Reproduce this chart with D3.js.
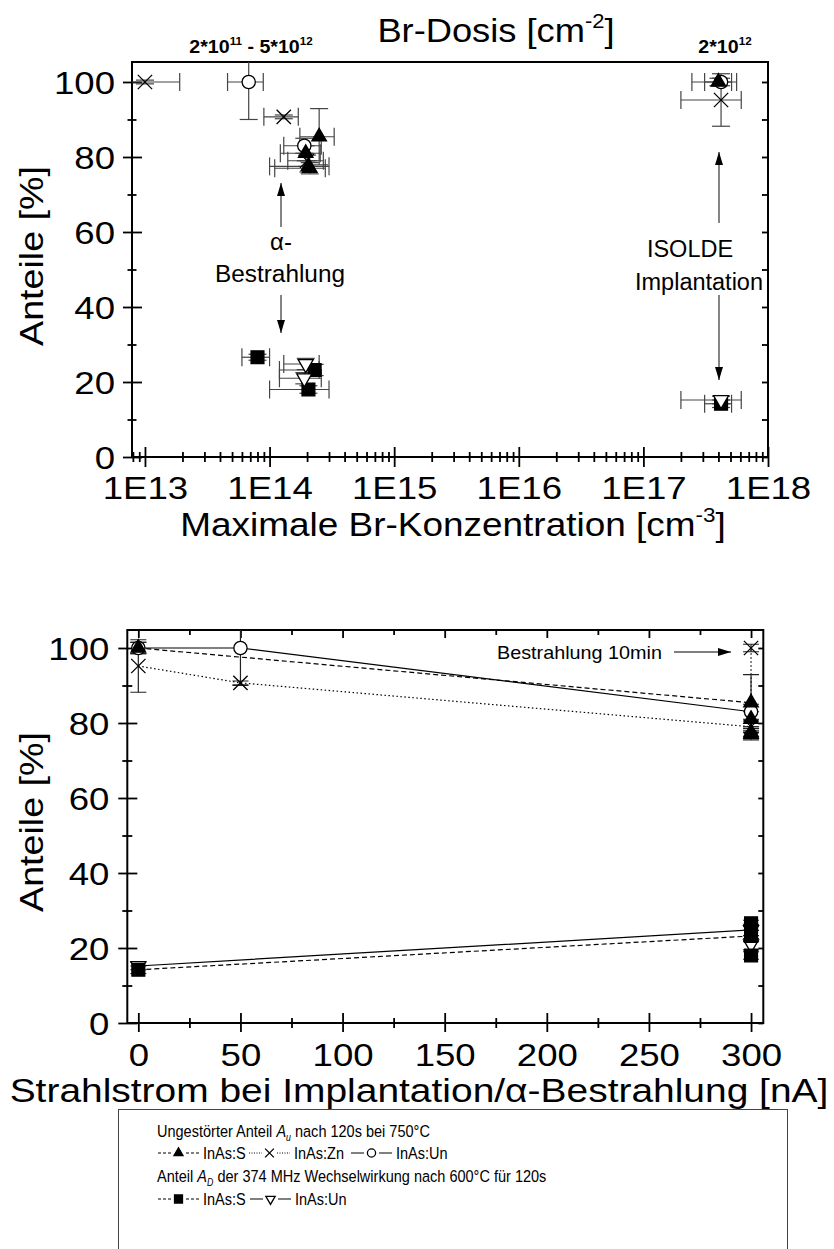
<!DOCTYPE html>
<html>
<head>
<meta charset="utf-8">
<script src="https://cdn.jsdelivr.net/npm/d3@7"></script>
<style>
  body { margin: 0; background: #fff; }
  svg { display: block; }
  text { font-family: "Liberation Sans", Arial, Helvetica, sans-serif; fill: #000; }
</style>
</head>
<body>
<svg id="chart" width="834" height="1249"></svg>
<script>
// ---- top panel: Br concentration [cm^-3] vs. fraction [%] ----
var topXTicks = [1e13, 1e14, 1e15, 1e16, 1e17, 1e18];
var topXTickLabels = ["1E13", "1E14", "1E15", "1E16", "1E17", "1E18"];
var yTicks = [0, 20, 40, 60, 80, 100];
var yMinorTicks = [10, 30, 50, 70, 90];

// A_u, InAs:S (filled triangle)
var topS_x   = [4.0e17, 2.5e14, 1.95e14, 2.05e14, 2.1e14];
var topS_y   = [100, 85.4, 81, 77.5, 77];
var topS_xlo = [3.1e17, 1.75e14, 1.22e14, 1.0e14, 1.1e14];
var topS_xhi = [5.1e17, 3.3e14, 2.55e14, 3.0e14, 2.8e14];
var topS_err = [1, 7.5, 2, 1.5, 1.5];
// A_u, InAs:Zn (cross)
var topZn_x   = [4.2e17, 1.0e13, 1.3e14, 2.0e14];
var topZn_y   = [95.2, 100, 90.7, 79];
var topZn_xlo = [2.0e17, 5.2e12, 9.0e13, 1.4e14];
var topZn_xhi = [6.1e17, 1.9e13, 1.7e14, 2.7e14];
var topZn_err = [7, 0.5, 0.5, 1.5];
// A_u, InAs:Un (open circle)
var topUn_x   = [4.2e17, 6.8e13, 1.9e14];
var topUn_y   = [100, 100, 83];
var topUn_xlo = [2.45e17, 4.6e13, 1.3e14];
var topUn_xhi = [5.6e17, 8.9e13, 2.6e14];
var topUn_err = [1, 10, 2];
// A_D, InAs:S (filled square)
var topDS_x   = [4.2e17, 8.0e13, 2.3e14, 2.05e14];
var topDS_y   = [14.2, 26.6, 23.2, 18];
var topDS_xlo = [3.1e17, 6.0e13, 1.2e14, 1.0e14];
var topDS_xhi = [5.1e17, 1.0e14, 2.5e14, 3.0e14];
var topDS_err = [1, 0.8, 1.5, 1];
// A_D, InAs:Un (open triangle down)
var topDUn_x   = [4.2e17, 1.95e14, 1.9e14];
var topDUn_y   = [15.2, 24.8, 21];
var topDUn_xlo = [2.0e17, 1.3e14, 1.2e14];
var topDUn_xhi = [6.1e17, 2.5e14, 2.6e14];
var topDUn_err = [1, 1.5, 1.5];

// ---- bottom panel: beam current [nA] vs. fraction [%] ----
var botXTicks = [0, 50, 100, 150, 200, 250, 300];
var botXMinor = [25, 75, 125, 175, 225, 275];
var botS_x = [0, 300, 300, 300, 300],  botS_y = [100, 85.4, 81, 77.5, 77], botS_err = [1.5, 7.5, 2, 1.5, 1.5];
var botZn_x = [0, 50, 300, 300],       botZn_y = [95.2, 90.7, 79, 100],     botZn_err = [7, 0.5, 1.5, 1];
var botUn_x = [0, 50, 300],            botUn_y = [100, 100, 83],            botUn_err = [1.5, 10, 2];
var botDS_x = [0, 300, 300, 300],      botDS_y = [14.2, 23.2, 26.6, 18],    botDS_err = [1, 1.5, 0.8, 1];
var botDUn_x = [0, 300, 300],          botDUn_y = [15.2, 24.8, 21],         botDUn_err = [1, 1.5, 1.5];

var svg = d3.select("#chart");
var defs = svg.append("defs");

defs.append("marker").attr("id", "head")
    .attr("markerUnits", "userSpaceOnUse")
    .attr("markerWidth", 14).attr("markerHeight", 8)
    .attr("refX", 13).attr("refY", 4).attr("orient", "auto")
  .append("path").attr("d", "M0,0 L13,4 L0,8 Z").attr("fill", "#000");

// scales
var xTop = d3.scaleLog().domain([7.87e12, 1e18]).range([132, 768]);
var yTop = d3.scaleLinear().domain([0, 105.33]).range([457, 62]);
var xBot = d3.scaleLinear().domain([-5.4, 306]).range([127.3, 763.3]);
var yBot = d3.scaleLinear().domain([0, 104.8]).range([1023, 630]);

defs.append("clipPath").attr("id", "clipTop").append("rect")
    .attr("x", 132).attr("y", 62).attr("width", 636).attr("height", 395);
defs.append("clipPath").attr("id", "clipBot").append("rect")
    .attr("x", 127.3).attr("y", 630).attr("width", 636).attr("height", 393);

var SYM = {
  triUp:   { type: d3.symbolTriangle, size: 92,  fill: "#000", rot: 0 },
  triDown: { type: d3.symbolTriangle, size: 98,  fill: "#fff", rot: 180 },
  square:  { type: d3.symbolSquare,   size: 165, fill: "#000", rot: 0 },
  circle:  { type: d3.symbolCircle,   size: 138, fill: "#fff", rot: 0 },
  cross:   { type: d3.symbolX,        size: 135, fill: "none", rot: 0 }
};

var TICK_SX = 1.18;   // the reference glyphs run wider than Arial
var TITLE_SX = 1.12;

function drawMarkers(g, pts, sym, scale) {
  var s = scale || 1;
  g.selectAll(null).data(pts).join("path")
    .attr("d", d3.symbol(sym.type, sym.size * s * s))
    .attr("transform", function (d) { return "translate(" + d.px + "," + d.py + ") rotate(" + sym.rot + ")"; })
    .attr("fill", sym.fill)
    .attr("stroke", "#000")
    .attr("stroke-width", 1.3);
}

function errBars(g, pts, cap, color) {
  pts.forEach(function (d) {
    var e = g.append("g").attr("stroke", color).attr("stroke-width", 1.2).attr("fill", "none");
    if (d.x0 != null) {
      e.append("line").attr("x1", d.x0).attr("x2", d.x1).attr("y1", d.py).attr("y2", d.py);
      e.append("line").attr("x1", d.x0).attr("x2", d.x0).attr("y1", d.py - cap).attr("y2", d.py + cap);
      e.append("line").attr("x1", d.x1).attr("x2", d.x1).attr("y1", d.py - cap).attr("y2", d.py + cap);
    }
    if (d.y0 != null) {
      e.append("line").attr("x1", d.px).attr("x2", d.px).attr("y1", d.y0).attr("y2", d.y1);
      e.append("line").attr("x1", d.px - cap).attr("x2", d.px + cap).attr("y1", d.y0).attr("y2", d.y0);
      e.append("line").attr("x1", d.px - cap).attr("x2", d.px + cap).attr("y1", d.y1).attr("y2", d.y1);
    }
  });
}

function topPoints(xs, ys, xlo, xhi, err) {
  return xs.map(function (v, i) {
    return { px: xTop(v), py: yTop(ys[i]), x0: xTop(xlo[i]), x1: xTop(xhi[i]),
             y0: yTop(ys[i] - err[i]), y1: yTop(ys[i] + err[i]) };
  });
}
function botPoints(xs, ys, err) {
  return xs.map(function (v, i) {
    return { px: xBot(v), py: yBot(ys[i]), x0: null, y0: yBot(ys[i] - err[i]), y1: yBot(ys[i] + err[i]) };
  });
}

// text placed with a horizontal stretch
function label(x, y, size, sx, anchor, rot) {
  return svg.append("text")
    .attr("transform", "translate(" + x + "," + y + ")" + (rot ? " rotate(" + rot + ")" : "") +
                       " scale(" + (sx || 1) + ",1)")
    .attr("font-size", size)
    .attr("text-anchor", anchor || "middle");
}

function arrow(x1, y1, x2, y2, color) {
  svg.append("line").attr("x1", x1).attr("y1", y1).attr("x2", x2).attr("y2", y2)
     .attr("stroke", color || "#000").attr("stroke-width", 1.2).attr("marker-end", "url(#head)");
}

function styleAxis(g, size) {
  g.select(".domain").remove();
  g.attr("font-family", null).attr("font-size", size);
  g.selectAll(".tick line").attr("stroke", "#000").attr("stroke-width", 1.8);
}

// ================= TOP PANEL =================
var topG = svg.append("g");

// left axis
var gyl = topG.append("g").attr("transform", "translate(132,0)")
  .call(d3.axisLeft(yTop).tickValues(yTicks).tickSize(9));
styleAxis(gyl, 31);
gyl.selectAll(".tick line").attr("x1", 10);
gyl.selectAll(".tick text").attr("x", -17 / TICK_SX).attr("dy", "0.36em")
   .attr("transform", "scale(" + TICK_SX + ",1)");
var gylm = topG.append("g").attr("transform", "translate(132,0)")
  .call(d3.axisLeft(yTop).tickValues(yMinorTicks).tickSize(4.5).tickFormat(""));
styleAxis(gylm, 10);
gylm.selectAll(".tick line").attr("x1", 4.5);
// right axis, inward ticks
var gyr = topG.append("g").attr("transform", "translate(768,0)")
  .call(d3.axisLeft(yTop).tickValues(yTicks.concat(yMinorTicks)).tickSize(6).tickFormat(""));
styleAxis(gyr, 10);

// bottom log axis
var gxb = topG.append("g").attr("transform", "translate(0,457)")
  .call(d3.axisBottom(xTop).tickValues(topXTicks).tickSize(10)
        .tickFormat(function (d, i) { return topXTickLabels[i]; }));
styleAxis(gxb, 31);
gxb.selectAll(".tick line").attr("y1", -10);
gxb.selectAll(".tick text").attr("y", 42).attr("dy", 0)
   .attr("transform", "scale(" + TICK_SX + ",1)");
var topMinor = xTop.ticks().filter(function (d) { return topXTicks.indexOf(d) < 0; });
var gxbm = topG.append("g").attr("transform", "translate(0,457)")
  .call(d3.axisBottom(xTop).tickValues(topMinor).tickSize(5).tickFormat(""));
styleAxis(gxbm, 10);
gxbm.selectAll(".tick line").attr("y1", -5);

// frame
topG.append("path").attr("d", "M132,457 V62 H768 V457 H132")
   .attr("fill", "none").attr("stroke", "#000").attr("stroke-width", 2);

// data
var ptsTopUn = topPoints(topUn_x, topUn_y, topUn_xlo, topUn_xhi, topUn_err);
var ptsTopZn = topPoints(topZn_x, topZn_y, topZn_xlo, topZn_xhi, topZn_err);
var ptsTopS  = topPoints(topS_x, topS_y, topS_xlo, topS_xhi, topS_err);
var ptsTopDS = topPoints(topDS_x, topDS_y, topDS_xlo, topDS_xhi, topDS_err);
var ptsTopDUn = topPoints(topDUn_x, topDUn_y, topDUn_xlo, topDUn_xhi, topDUn_err);

var topErr = topG.append("g").attr("clip-path", "url(#clipTop)");
[ptsTopUn, ptsTopZn, ptsTopS, ptsTopDS, ptsTopDUn].forEach(function (p) { errBars(topErr, p, 9, "#444"); });
var topMk = topG.append("g");
drawMarkers(topMk, ptsTopUn, SYM.circle);
drawMarkers(topMk, ptsTopZn, SYM.cross);
drawMarkers(topMk, ptsTopS, SYM.triUp);
drawMarkers(topMk, ptsTopDS, SYM.square);
drawMarkers(topMk, ptsTopDUn, SYM.triDown);

// titles
var t1 = label(496, 42, 33, 1.1);
t1.append("tspan").text("Br-Dosis [cm");
t1.append("tspan").attr("dy", -14).attr("font-size", 20).text("-2");
t1.append("tspan").attr("dy", 14).text("]");

var b1 = label(251, 53, 18.5, 1.06).attr("font-weight", "bold");
b1.append("tspan").text("2*10");
b1.append("tspan").attr("dy", -8).attr("font-size", 11).text("11");
b1.append("tspan").attr("dy", 8).text(" - 5*10");
b1.append("tspan").attr("dy", -8).attr("font-size", 11).text("12");
var b2 = label(725, 53, 18.5, 1.06).attr("font-weight", "bold");
b2.append("tspan").text("2*10");
b2.append("tspan").attr("dy", -8).attr("font-size", 11).text("12");

label(43, 256, 33, 1.14, "middle", -90).text("Anteile [%]");

var t2 = label(453, 536, 33, TITLE_SX);
t2.append("tspan").text("Maximale Br-Konzentration [cm");
t2.append("tspan").attr("dy", -14).attr("font-size", 20).text("-3");
t2.append("tspan").attr("dy", 14).text("]");

// annotations
label(281, 250, 23, 1.04).text("\u03b1-");
label(280, 282, 23, 1.06).text("Bestrahlung");
arrow(281, 227, 281, 183, "#333");
arrow(281, 295, 281, 333, "#333");
label(690, 257, 23.5).text("ISOLDE");
label(699, 290, 23.5).text("Implantation");
arrow(719, 223, 719, 152, "#333");
arrow(719, 295, 719, 380, "#333");

// ================= BOTTOM PANEL =================
var botG = svg.append("g");

var byl = botG.append("g").attr("transform", "translate(127.3,0)")
  .call(d3.axisLeft(yBot).tickValues(yTicks).tickSize(9));
styleAxis(byl, 31);
byl.selectAll(".tick line").attr("x1", 10);
byl.selectAll(".tick text").attr("x", -18 / TICK_SX).attr("dy", "0.36em")
   .attr("transform", "scale(" + TICK_SX + ",1)");
var bylm = botG.append("g").attr("transform", "translate(127.3,0)")
  .call(d3.axisLeft(yBot).tickValues(yMinorTicks).tickSize(5).tickFormat(""));
styleAxis(bylm, 10);
bylm.selectAll(".tick line").attr("x1", 5);
var byr = botG.append("g").attr("transform", "translate(763.3,0)")
  .call(d3.axisLeft(yBot).tickValues(yTicks.concat(yMinorTicks)).tickSize(5).tickFormat(""));
styleAxis(byr, 10);

var bxb = botG.append("g").attr("transform", "translate(0,1023)")
  .call(d3.axisBottom(xBot).tickValues(botXTicks).tickSize(9));
styleAxis(bxb, 31);
bxb.selectAll(".tick line").attr("y1", -10);
bxb.selectAll(".tick text").attr("y", 43).attr("dy", 0)
   .attr("transform", "scale(" + TICK_SX + ",1)");
var bxbm = botG.append("g").attr("transform", "translate(0,1023)")
  .call(d3.axisBottom(xBot).tickValues(botXMinor).tickSize(5).tickFormat(""));
styleAxis(bxbm, 10);
bxbm.selectAll(".tick line").attr("y1", -5);
// top axis, inward ticks
var bxt = botG.append("g").attr("transform", "translate(0,630)")
  .call(d3.axisBottom(xBot).tickValues(botXTicks).tickSize(8).tickFormat(""));
styleAxis(bxt, 10);
var bxtm = botG.append("g").attr("transform", "translate(0,630)")
  .call(d3.axisBottom(xBot).tickValues(botXMinor).tickSize(5).tickFormat(""));
styleAxis(bxtm, 10);

botG.append("rect").attr("x", 127.3).attr("y", 630).attr("width", 636).attr("height", 393)
   .attr("fill", "none").attr("stroke", "#000").attr("stroke-width", 2);

var ptsBotUn = botPoints(botUn_x, botUn_y, botUn_err);
var ptsBotZn = botPoints(botZn_x, botZn_y, botZn_err);
var ptsBotS  = botPoints(botS_x, botS_y, botS_err);
var ptsBotDS = botPoints(botDS_x, botDS_y, botDS_err);
var ptsBotDUn = botPoints(botDUn_x, botDUn_y, botDUn_err);

var line = d3.line().x(function (d) { return d.px; }).y(function (d) { return d.py; });
var botLines = botG.append("g").attr("clip-path", "url(#clipBot)").attr("fill", "none").attr("stroke", "#000");
botLines.append("path").attr("d", line(ptsBotUn)).attr("stroke-width", 1.2);
botLines.append("path").attr("d", line(ptsBotS)).attr("stroke-width", 1.2).attr("stroke-dasharray", "5,3");
botLines.append("path").attr("d", line(ptsBotZn)).attr("stroke-width", 1.2).attr("stroke-dasharray", "1.5,2.5");
botLines.append("path").attr("d", line(ptsBotDUn)).attr("stroke-width", 1.2);
botLines.append("path").attr("d", line(ptsBotDS)).attr("stroke-width", 1.2).attr("stroke-dasharray", "5,3");

var botErr = botG.append("g").attr("clip-path", "url(#clipBot)");
[ptsBotUn, ptsBotZn, ptsBotS, ptsBotDUn, ptsBotDS].forEach(function (p) { errBars(botErr, p, 8, "#222"); });
var botMk = botG.append("g");
drawMarkers(botMk, ptsBotUn, SYM.circle);
drawMarkers(botMk, ptsBotZn, SYM.cross);
drawMarkers(botMk, ptsBotS, SYM.triUp);
drawMarkers(botMk, ptsBotDUn, SYM.triDown);
drawMarkers(botMk, ptsBotDS, SYM.square);

label(662, 659, 18, 1.1, "end").text("Bestrahlung 10min");
arrow(674, 652, 731, 652, "#000");

label(43, 822, 33, 1.14, "middle", -90).text("Anteile [%]");
label(419, 1102, 33, 1.18).text("Strahlstrom bei Implantation/\u03b1-Bestrahlung [nA]");

// ================= LEGEND =================
var leg = svg.append("g");
leg.append("rect").attr("x", 118.5).attr("y", 1109.5).attr("width", 669).attr("height", 200)
   .attr("fill", "none").attr("stroke", "#444").attr("stroke-width", 1);

function legText(x, y) {
  return leg.append("text").attr("transform", "translate(" + x + "," + y + ") scale(0.88,1)")
            .attr("font-size", 16.5);
}
function legSeg(x1, x2, y, dash) {
  leg.append("line").attr("x1", x1).attr("x2", x2).attr("y1", y).attr("y2", y)
     .attr("stroke", "#000").attr("stroke-width", 1).attr("stroke-dasharray", dash || null);
}
function legItem(x, y, sym, dash, name) {
  legSeg(x, x + 13, y, dash);
  drawMarkers(leg, [{ px: x + 20.5, py: y }], sym, 0.62);
  legSeg(x + 28, x + 41, y, dash);
  legText(x + 45, y + 6).text(name);
}

var l1 = legText(157, 1137);
l1.append("tspan").text("Ungestörter Anteil ");
l1.append("tspan").attr("font-style", "italic").text("A");
l1.append("tspan").attr("font-size", 10).attr("font-style", "italic").attr("dy", 4).text("u");
l1.append("tspan").attr("dy", -4).text(" nach 120s bei 750°C");
legItem(158, 1153, SYM.triUp, "3,2", "InAs:S");
legItem(249, 1153, SYM.cross, "1,1.5", "InAs:Zn");
legItem(351, 1153, SYM.circle, null, "InAs:Un");

var l3 = legText(157, 1182);
l3.append("tspan").text("Anteil ");
l3.append("tspan").attr("font-style", "italic").text("A");
l3.append("tspan").attr("font-size", 10).attr("font-style", "italic").attr("dy", 4).text("D");
l3.append("tspan").attr("dy", -4).text(" der 374 MHz Wechselwirkung nach 600°C für 120s");
legItem(158, 1199, SYM.square, "3,2", "InAs:S");
legItem(250, 1199, SYM.triDown, null, "InAs:Un");
</script>
</body>
</html>
